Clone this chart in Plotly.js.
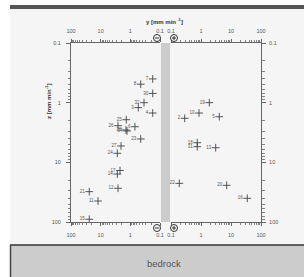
<!DOCTYPE html>
<html><head><meta charset="utf-8">
<script src="https://cdn.plot.ly/plotly-3.0.1.min.js"></script>
<style>html,body{margin:0;padding:0;background:#fff}#chart{width:304px;height:277px}</style>
</head><body><div id="chart"></div>
<script>
// ---- data ----
const leftLabels = ['7','8','29','30','32','3','4','25','26','6','28','34','33','23','27','24','17','14','12','21','11','15'];
const leftFlow   = [0.176,0.447,0.086,0.176,0.346,0.539,0.176,1.37,2.6,0.70,1.40,1.29,0.086,0.447,2.06,2.75,2.23,2.75,2.6,24.2,12.3,24.2];
const leftDepth  = [0.40,0.49,0.60,0.70,1.0,1.21,1.49,1.93,2.43,2.53,2.87,2.98,2.87,4.06,5.32,7.06,13.7,15.7,27.2,31.0,44.5,90];

const rightLabels = ['19','10','2','5','18','31','13','22','20','16'];
const rightFlow   = [1.89,0.86,0.286,4.07,0.75,0.75,3.09,0.189,7.19,34.9];
const rightDepth  = [1.0,1.49,1.83,1.72,4.69,5.47,5.69,22.5,24.3,40.1];

const majorVals = [0.1,1,10,100];
const majorText = ['0.1','1','10','100'];
const minorVals = [0.2,0.3,0.4,0.5,0.6,0.7,0.8,0.9,2,3,4,5,6,7,8,9,20,30,40,50,60,70,80,90];

// ---- layout helpers ----
const W = 304, H = 277;
const px = x => x / W;
const py = y => 1 - y / H;
const tickFont = {family:'Liberation Sans, Arial, sans-serif', size:5.5, color:'#555'};
const axCol = '#666';

function xAx(domain, range, side, overlay) {
  const a = {type:'log', range, side, anchor:'y', showline:true, linecolor:axCol, linewidth:1,
    ticks:'outside', ticklen:3, tickwidth:1, tickcolor:axCol, tickmode:'array',
    tickvals:majorVals, ticktext:majorText, tickfont:tickFont, showgrid:false, zeroline:false,
    fixedrange:true, ticklabelstandoff:4, domain,
    minor:{tickmode:'array', tickvals:minorVals, ticks:'outside', ticklen:2, tickwidth:0.8, tickcolor:axCol, showgrid:false}};
  if (overlay) a.overlaying = overlay;
  return a;
}
function yAx(side, anchor, overlay, standoff) {
  const a = {type:'log', range:[2,-1], side, anchor, showline:true, linecolor:axCol, linewidth:1,
    ticks:'outside', ticklen:4, tickwidth:1, tickcolor:axCol, tickmode:'array',
    tickvals:majorVals, ticktext:majorText, tickfont:tickFont, showgrid:false, zeroline:false,
    fixedrange:true, ticklabelstandoff:standoff, domain:[py(222), py(43)],
    minor:{tickmode:'array', tickvals:minorVals, ticks:'outside', ticklen:2.5, tickwidth:0.8, tickcolor:axCol, showgrid:false}};
  if (overlay) a.overlaying = overlay;
  return a;
}

const markerStyle = {symbol:'cross-thin', size:5.5, line:{width:0.9, color:'#444'}, color:'#444'};
const labelFont = {family:'Liberation Sans, Arial, sans-serif', size:4.5, color:'#555'};

const traces = [
  {x:leftFlow, y:leftDepth, text:leftLabels, mode:'markers+text', textposition:'middle left',
   xaxis:'x', yaxis:'y', marker:markerStyle, textfont:labelFont, cliponaxis:false, hoverinfo:'none', showlegend:false},
  {x:rightFlow, y:rightDepth, text:rightLabels, mode:'markers+text', textposition:'middle left',
   xaxis:'x2', yaxis:'y', marker:markerStyle, textfont:labelFont, cliponaxis:false, hoverinfo:'none', showlegend:false},
  {x:[], y:[], xaxis:'x3', yaxis:'y', showlegend:false, hoverinfo:'none'},
  {x:[], y:[], xaxis:'x4', yaxis:'y', showlegend:false, hoverinfo:'none'},
  {x:[], y:[], xaxis:'x2', yaxis:'y2', showlegend:false, hoverinfo:'none'}
];

function circ(cx, cy, sign) {
  const r = 3.5, out = [];
  out.push({type:'circle', xref:'paper', yref:'paper', x0:px(cx-r), x1:px(cx+r), y0:py(cy+r), y1:py(cy-r),
    line:{color:'#333', width:1}, fillcolor:'#f5f5f5', layer:'above'});
  out.push({type:'line', xref:'paper', yref:'paper', x0:px(cx-2), x1:px(cx+2), y0:py(cy), y1:py(cy), line:{color:'#333', width:1}, layer:'above'});
  if (sign > 0) out.push({type:'line', xref:'paper', yref:'paper', x0:px(cx), x1:px(cx), y0:py(cy-2), y1:py(cy+2), line:{color:'#333', width:1}, layer:'above'});
  return out;
}

const shapes = [
  {type:'rect', xref:'paper', yref:'paper', x0:px(10), x1:1, y0:py(245), y1:py(9), fillcolor:'#f5f5f5', line:{width:0}, layer:'below'},
  {type:'rect', xref:'paper', yref:'paper', x0:px(10), x1:1, y0:py(9), y1:py(5), fillcolor:'#555', line:{width:0}, layer:'below'},
  {type:'rect', xref:'paper', yref:'paper', x0:px(10), x1:1, y0:0, y1:py(245), fillcolor:'#cccccc', line:{width:0}, layer:'below'},
  {type:'line', xref:'paper', yref:'paper', x0:px(10), x1:1, y0:py(245), y1:py(245), line:{color:'#333', width:1.5}, layer:'below'},
  {type:'line', xref:'paper', yref:'paper', x0:px(10.5), x1:px(10.5), y0:0, y1:py(245), line:{color:'#444', width:1.5}, layer:'below'},
  {type:'rect', xref:'paper', yref:'paper', x0:px(161), x1:px(170), y0:py(222), y1:py(43), fillcolor:'#cccccc', line:{width:0}, layer:'below'},
  ...circ(157, 38, -1), ...circ(174, 38, 1), ...circ(157, 228, -1), ...circ(174, 228, 1)
];

const annFont = {family:'Liberation Sans, Arial, sans-serif', size:6, color:'#333'};
const annotations = [
  {xref:'paper', yref:'paper', x:px(164), y:py(21), xanchor:'center', yanchor:'middle',
   text:'<b>y [mm min<sup> -1</sup>]</b>', showarrow:false, font:annFont},
  {xref:'paper', yref:'paper', x:px(48), y:py(102), xanchor:'center', yanchor:'middle',
   text:'<b>z [mm min<sup>-1</sup>]</b>', textangle:-90, showarrow:false, font:annFont},
  {xref:'paper', yref:'paper', x:px(164), y:py(263), xanchor:'center', yanchor:'middle', text:'bedrock', showarrow:false,
   font:{family:'Liberation Sans, Arial, sans-serif', size:9.5, color:'#555'}}
];

const layout = {
  width:W, height:H, margin:{l:0, r:0, t:0, b:0},
  paper_bgcolor:'#ffffff', plot_bgcolor:'rgba(0,0,0,0)',
  xaxis: xAx([px(71), px(160)], [2,-1], 'bottom'),
  xaxis2: xAx([px(171), px(261)], [-1,2], 'bottom'),
  xaxis3: xAx([px(71), px(160)], [2,-1], 'top', 'x'),
  xaxis4: xAx([px(171), px(261)], [-1,2], 'top', 'x2'),
  yaxis: yAx('left', 'x', null, 4),
  yaxis2: yAx('right', 'x2', 'y', 2),
  shapes, annotations, showlegend:false
};

Plotly.newPlot('chart', traces, layout, {staticPlot:true, displayModeBar:false});
</script></body></html>
